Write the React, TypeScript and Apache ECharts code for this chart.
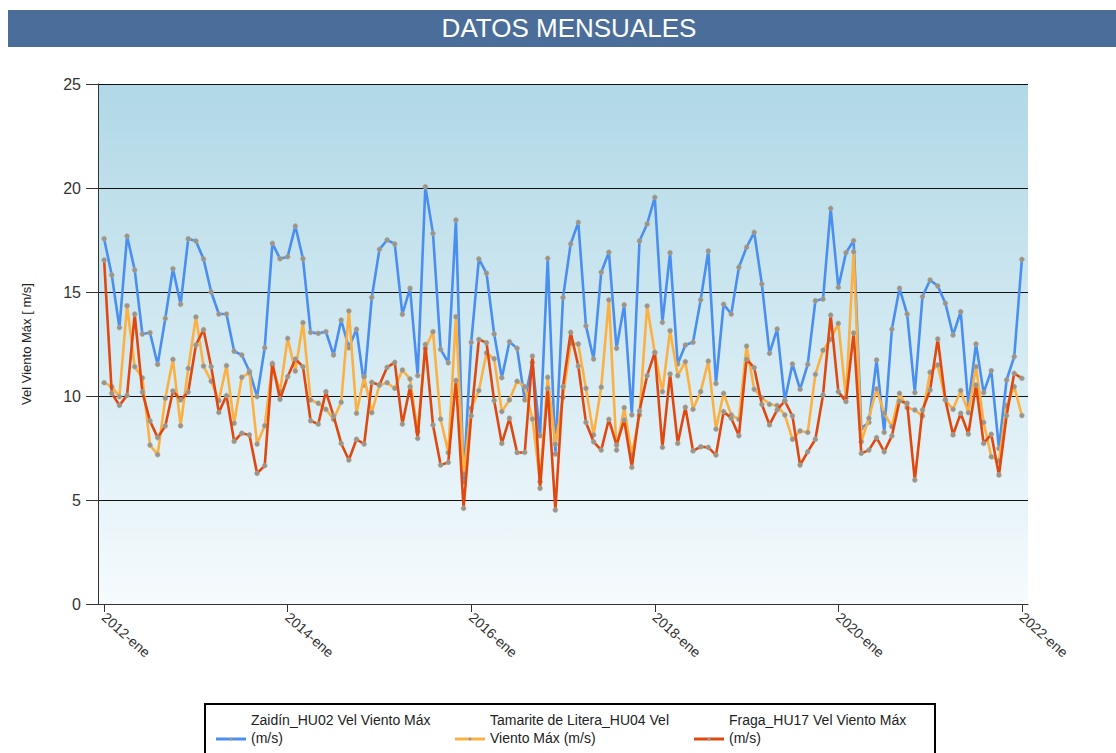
import React, { useEffect, useRef } from "react";
import * as echarts from "echarts";

const title = "DATOS MENSUALES";
const yAxisTitle = "Vel Viento Máx [ m/s]";
const seriesNames = [
  "Zaidín_HU02 Vel Viento Máx (m/s)",
  "Tamarite de Litera_HU04 Vel Viento Máx (m/s)",
  "Fraga_HU17 Vel Viento Máx (m/s)",
];
const legendLines = [
  ["Zaidín_HU02 Vel Viento Máx", "(m/s)"],
  ["Tamarite de Litera_HU04 Vel", "Viento Máx (m/s)"],
  ["Fraga_HU17 Vel Viento Máx", "(m/s)"],
];
const tickLabels = ["2012-ene", "2014-ene", "2016-ene", "2018-ene", "2020-ene", "2022-ene"];
const yTicks = [0, 5, 10, 15, 20, 25];

// monthly values, 2012-ene .. 2022-ene (121 months)
const zaidin = [
  17.56, 15.82, 13.29, 17.69, 16.06, 12.98, 13.04, 11.52, 13.73, 16.12,
  14.41, 17.56, 17.45, 16.59, 15.0, 13.94, 13.94, 12.15, 11.97, 11.19,
  9.97, 12.32, 17.34, 16.6, 16.7, 18.17, 16.6, 13.06, 13.01, 13.09,
  11.97, 13.65, 12.32, 13.21, 10.53, 14.74, 17.05, 17.5, 17.31, 13.93,
  15.18, 10.98, 20.06, 17.82, 12.24, 11.6, 18.46, 5.88, 12.58, 16.59,
  15.9, 12.98, 10.88, 12.61, 12.29, 9.81, 11.62, 8.09, 16.62, 7.21,
  14.73, 17.31, 18.35, 13.37, 11.78, 15.95, 16.91, 12.29, 14.38, 9.09,
  17.45, 18.27, 19.55, 13.54, 16.89, 11.54, 12.45, 12.58, 14.62, 16.97,
  10.6, 14.41, 13.94, 16.19, 17.15, 17.87, 15.38, 12.05, 13.22, 9.78,
  11.54, 10.32, 11.52, 14.58, 14.66, 19.02, 15.22, 16.89, 17.47, 8.45,
  8.73, 11.73, 8.25, 13.21, 15.18, 13.94, 10.16, 14.78, 15.58, 15.29,
  14.46, 12.93, 14.05, 9.57, 12.5, 10.16, 11.22, 7.48, 10.77, 11.89,
  16.57,
];
const tamarite = [
  10.64, 10.45, 9.97, 14.34, 11.41, 10.87, 7.64, 7.18, 9.89, 11.76,
  8.57, 11.33, 13.8, 11.44, 10.71, 9.78, 11.46, 8.69, 10.9, 11.12,
  7.69, 8.57, 11.49, 10.21, 12.77, 11.2, 13.53, 9.81, 9.65, 9.36,
  8.88, 9.7, 14.09, 9.17, 10.93, 9.2, 10.53, 10.64, 10.37, 11.25,
  10.82, 8.29, 12.29, 13.09, 8.89, 7.28, 13.81, 6.25, 9.41, 10.26,
  12.07, 11.79, 9.25, 9.81, 10.71, 10.45, 8.89, 5.88, 10.9, 7.68,
  9.93, 12.53, 12.5, 10.37, 8.13, 10.43, 14.62, 7.4, 9.44, 7.16,
  9.09, 14.33, 12.08, 10.21, 13.14, 10.98, 11.65, 9.36, 10.21, 11.68,
  8.41, 10.13, 9.09, 8.88, 12.4, 10.32, 9.92, 9.6, 9.54, 9.09,
  7.92, 8.32, 8.25, 11.04, 12.2, 12.72, 13.49, 9.92, 16.94, 7.8,
  8.93, 10.34, 9.17, 8.53, 10.13, 9.44, 9.33, 9.04, 11.14, 11.49,
  9.81, 9.36, 10.26, 9.2, 11.41, 8.73, 7.08, 6.88, 9.54, 10.45,
  9.06,
];
const fraga = [
  16.54, 10.13, 9.55, 10.03, 13.94, 10.19, 8.8, 8.0, 8.56, 10.24,
  9.81, 10.19, 12.45, 13.19, 11.41, 9.21, 10.02, 7.82, 8.21, 8.13,
  6.28, 6.65, 11.57, 9.84, 10.93, 11.78, 11.41, 8.81, 8.65, 10.21,
  9.04, 7.72, 6.92, 7.92, 7.69, 10.66, 10.53, 11.38, 11.62, 8.65,
  10.45, 7.96, 12.48, 8.61, 6.68, 6.81, 10.75, 4.6, 9.05, 12.72,
  12.56, 9.78, 7.72, 8.93, 7.28, 7.29, 11.92, 5.56, 10.37, 4.52,
  10.45, 13.06, 11.44, 8.73, 7.8, 7.4, 8.88, 7.64, 8.85, 6.57,
  9.28, 10.98, 12.1, 7.53, 11.06, 7.72, 9.46, 7.36, 7.56, 7.53,
  7.16, 9.25, 8.93, 8.09, 11.76, 11.36, 9.6, 8.61, 9.33, 9.76,
  9.04, 6.68, 7.32, 7.92, 10.05, 13.89, 10.21, 9.73, 13.03, 7.24,
  7.4, 8.0, 7.32, 8.08, 9.76, 9.65, 5.96, 9.33, 10.29, 12.74,
  9.81, 8.13, 9.17, 8.17, 10.53, 7.72, 8.16, 6.2, 9.06, 11.09,
  10.85,
];

const seriesValues = [zaidin, tamarite, fraga];
const seriesColors = ["#4a8ef0", "#fdb042", "#e0480f"];
const FONT = '"Liberation Sans", Arial, sans-serif';

export default function App() {
  const ref = useRef<HTMLDivElement>(null);

  useEffect(() => {
    if (!ref.current) return;
    const chart = echarts.init(ref.current, undefined, { renderer: "svg" });
    const tickMonths = tickLabels.map((_, i) => i * 24);

    const legendX = [216, 455, 694];
    const legendGraphics: any[] = [
      {
        type: "rect",
        shape: { x: 205, y: 704, width: 730, height: 70 },
        style: { fill: "#fff", stroke: "#000", lineWidth: 2 },
        z: 10,
      },
    ];
    legendLines.forEach((lines, k) => {
      const x0 = legendX[k];
      legendGraphics.push(
        {
          type: "line",
          shape: { x1: x0, y1: 739, x2: x0 + 30, y2: 739 },
          style: { stroke: seriesColors[k], lineWidth: 3 },
          z: 11,
        },
        {
          type: "circle",
          shape: { cx: x0 + 15, cy: 739, r: 1.5 },
          style: { fill: "#999" },
          z: 12,
        },
        {
          type: "text",
          x: x0 + 35,
          y: 711,
          style: {
            text: lines.join("\n"),
            font: `14px ${FONT}`,
            fill: "#222",
            lineHeight: 18,
            textAlign: "left",
            textVerticalAlign: "top",
          },
          z: 12,
        }
      );
    });

    chart.setOption({
      animation: false,
      grid: {
        left: 98,
        right: 88,
        top: 84,
        bottom: 149,
        show: true,
        borderWidth: 0,
        backgroundColor: new echarts.graphic.LinearGradient(0, 0, 0, 1, [
          { offset: 0, color: "#b0d8e6" },
          { offset: 1, color: "#f6fbfd" },
        ]),
      },
      xAxis: {
        type: "value",
        min: -0.8,
        max: 120.8,
        splitLine: { show: false },
        axisLine: { show: true, onZero: false, lineStyle: { color: "#333", width: 1 } },
        axisTick: {
          show: true,
          customValues: tickMonths,
          length: 8,
          lineStyle: { color: "#333" },
        },
        axisLabel: {
          customValues: tickMonths,
          formatter: (v: number) => tickLabels[tickMonths.indexOf(Math.round(v))] ?? "",
          rotate: -42,
          fontSize: 14,
          fontFamily: FONT,
          color: "#333",
          margin: 11,
        },
      },
      yAxis: {
        type: "value",
        min: yTicks[0],
        max: yTicks[yTicks.length - 1],
        interval: 5,
        axisLine: { show: true, onZero: false, lineStyle: { color: "#333" } },
        axisTick: { show: true, length: 12, lineStyle: { color: "#333" } },
        axisLabel: { fontSize: 16, fontFamily: FONT, color: "#333", margin: 17 },
        splitLine: { show: true, lineStyle: { color: "#111", width: 1 } },
      },
      graphic: [
        {
          type: "rect",
          shape: { x: 8, y: 10, width: 1108, height: 37 },
          style: { fill: "#4a6e99" },
        },
        {
          type: "text",
          x: 569,
          y: 28,
          style: {
            text: title,
            font: `26px ${FONT}`,
            fill: "#ffffff",
            textAlign: "center",
            textVerticalAlign: "middle",
          },
        },
        {
          type: "text",
          x: 26,
          y: 344,
          rotation: Math.PI / 2,
          style: {
            text: yAxisTitle,
            font: `13px ${FONT}`,
            fill: "#222",
            textAlign: "center",
            textVerticalAlign: "middle",
          },
        },
        ...legendGraphics,
      ],
      series: seriesValues.map((vals, k) => ({
        name: seriesNames[k],
        type: "line",
        data: vals.map((v, i) => [i, v]),
        symbol: "circle",
        symbolSize: 5,
        showSymbol: true,
        lineStyle: { color: seriesColors[k], width: 2.6 },
        itemStyle: { color: "#9a9489", borderColor: "#b5ad9c", borderWidth: 0.5 },
        z: 2 + k,
      })),
    });
    return () => chart.dispose();
  }, []);

  return (
    <div
      ref={ref}
      style={{ position: "fixed", left: 0, top: 0, width: "1116px", height: "753px", background: "#fff" }}
    />
  );
}
